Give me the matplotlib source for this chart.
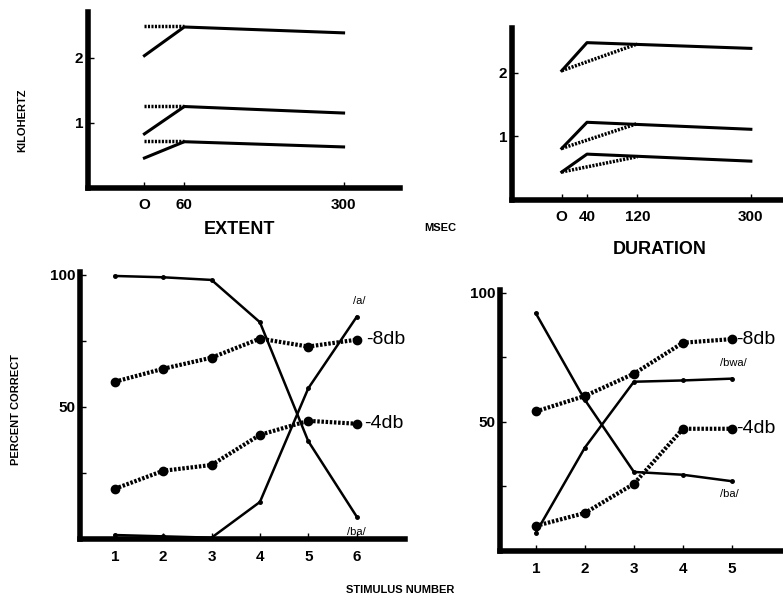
import matplotlib.pyplot as plt

plt.rcParams['font.family'] = ['Liberation Sans', 'DejaVu Sans']

# --- top panels: formant patterns (kHz vs msec) ---
extent_solid_x = [0, 60, 300]
extent_f3 = [2.03, 2.47, 2.38]
extent_f2 = [0.83, 1.25, 1.15]
extent_f1 = [0.46, 0.71, 0.63]
extent_dot_x = [0, 60]
extent_dot = [2.48, 1.26, 0.72]

dur_solid_x = [0, 40, 300]
dur_f3 = [2.03, 2.47, 2.38]
dur_f2 = [0.81, 1.22, 1.11]
dur_f1 = [0.44, 0.72, 0.61]
dur_dot_x = [0, 120]
dur_dot_end = [2.45, 1.20, 0.68]

# --- bottom panels: percent correct vs stimulus number ---
stim_left = [1, 2, 3, 4, 5, 6]
left_ba = [99.5, 99, 98, 82, 37, 8.5]
left_a = [1.5, 1, 0.5, 14, 57, 84]
left_m8 = [59.5, 64.4, 68.6, 75.8, 72.8, 75.4]
left_m4 = [19, 25.8, 28, 39.4, 44.7, 43.6]

stim_right = [1, 2, 3, 4, 5]
right_ba = [92, 58.5, 30.6, 29.5, 27]
right_bwa = [7, 40, 65.5, 66, 66.7]
right_m8 = [54, 60, 68.6, 80.6, 82]
right_m4 = [9.7, 14.7, 26, 47.3, 47.3]

W, H = 783, 610
fig = plt.figure(figsize=(W / 100, H / 100), dpi=100)


def box(l, t, r, b):
    return [l / W, 1 - b / H, (r - l) / W, (b - t) / H]


def style(ax):
    for s in ['top', 'right']:
        ax.spines[s].set_visible(False)
    for s in ['left', 'bottom']:
        ax.spines[s].set_linewidth(4)
    ax.tick_params(direction='in', length=4, width=1, labelsize=11)
    for lab in ax.get_xticklabels() + ax.get_yticklabels():
        lab.set_fontweight('bold')


DOT = (0, (0.6, 0.4))

# top left: EXTENT
ax1 = fig.add_axes(box(88, 12, 400, 188))
for f in (extent_f3, extent_f2, extent_f1):
    ax1.plot(extent_solid_x, f, color='black', lw=2.2)
for v in extent_dot:
    ax1.plot(extent_dot_x, [v, v], color='black', lw=2.5, ls=DOT)
ax1.set_xlim(-85, 385)
ax1.set_ylim(0, 2.7)
ax1.set_xticks([0, 60, 300], ['O', '60', '300'])
ax1.set_yticks([1, 2], ['1', '2'])
ax1.tick_params(axis='x', length=0, pad=7)
style(ax1)

# top right: DURATION
ax2 = fig.add_axes(box(512, 28, 783, 200))
for f in (dur_f3, dur_f2, dur_f1):
    ax2.plot(dur_solid_x, f, color='black', lw=2.2)
for f, v in zip((dur_f3, dur_f2, dur_f1), dur_dot_end):
    ax2.plot(dur_dot_x, [f[0], v], color='black', lw=2.5, ls=DOT)
ax2.set_xlim(-79, 351)
ax2.set_ylim(0, 2.7)
ax2.set_xticks([0, 40, 120, 300], ['O', '40', '120', '300'])
ax2.set_yticks([1, 2], ['1', '2'])
ax2.tick_params(axis='x', length=0, pad=7)
style(ax2)

fig.text(22 / W, 1 - 120 / H, 'KILOHERTZ', rotation=90, ha='center',
         va='center', fontsize=8, fontweight='bold')
fig.text(240 / W, 1 - 230 / H, 'EXTENT', ha='center', va='center',
         fontsize=13, fontweight='bold')
fig.text(660 / W, 1 - 250 / H, 'DURATION', ha='center', va='center',
         fontsize=13, fontweight='bold')
fig.text(440 / W, 1 - 228 / H, 'MSEC', ha='center', va='center',
         fontsize=8, fontweight='bold')

# bottom left
ax3 = fig.add_axes(box(80, 272, 405, 539))
ax3.plot(stim_left, left_ba, color='black', lw=1.8, marker='o', ms=2.5)
ax3.plot(stim_left, left_a, color='black', lw=1.8, marker='o', ms=2.5)
ax3.plot(stim_left, left_m8, color='black', lw=3, ls=DOT, marker='o', ms=6)
ax3.plot(stim_left, left_m4, color='black', lw=3, ls=DOT, marker='o', ms=6)
ax3.set_xlim(0.28, 7.0)
ax3.set_ylim(0, 101)
ax3.set_xticks(stim_left)
ax3.set_yticks([25, 50, 75, 100], ['', '50', '', '100'])
ax3.tick_params(axis='x', length=0, pad=8)
style(ax3)
ax3.text(6.05, 89, '/a/', fontsize=8, ha='center')
ax3.text(6.2, 75.4, '-8db', fontsize=14, va='center')
ax3.text(6.15, 43.6, '-4db', fontsize=14, va='center')
ax3.text(6.0, 1.5, '/ba/', fontsize=8, ha='center')

# bottom right
ax4 = fig.add_axes(box(500, 290, 783, 551))
ax4.plot(stim_right, right_ba, color='black', lw=1.8, marker='o', ms=2.5)
ax4.plot(stim_right, right_bwa, color='black', lw=1.8, marker='o', ms=2.5)
ax4.plot(stim_right, right_m8, color='black', lw=3, ls=DOT, marker='o', ms=6)
ax4.plot(stim_right, right_m4, color='black', lw=3, ls=DOT, marker='o', ms=6)
ax4.set_xlim(0.27, 6.04)
ax4.set_ylim(0, 101)
ax4.set_xticks(stim_right)
ax4.set_yticks([25, 50, 75, 100], ['', '50', '', '100'])
ax4.tick_params(axis='x', length=0, pad=8)
style(ax4)
ax4.text(5.08, 82, '-8db', fontsize=14, va='center')
ax4.text(4.75, 71.5, '/bwa/', fontsize=8)
ax4.text(5.08, 47.3, '-4db', fontsize=14, va='center')
ax4.text(4.75, 21, '/ba/', fontsize=8)

fig.text(16 / W, 1 - 410 / H, 'PERCENT CORRECT', rotation=90, ha='center',
         va='center', fontsize=8, fontweight='bold')
fig.text(400 / W, 1 - 590 / H, 'STIMULUS NUMBER', ha='center', va='center',
         fontsize=8, fontweight='bold')

fig.savefig('out.png', dpi=100)
